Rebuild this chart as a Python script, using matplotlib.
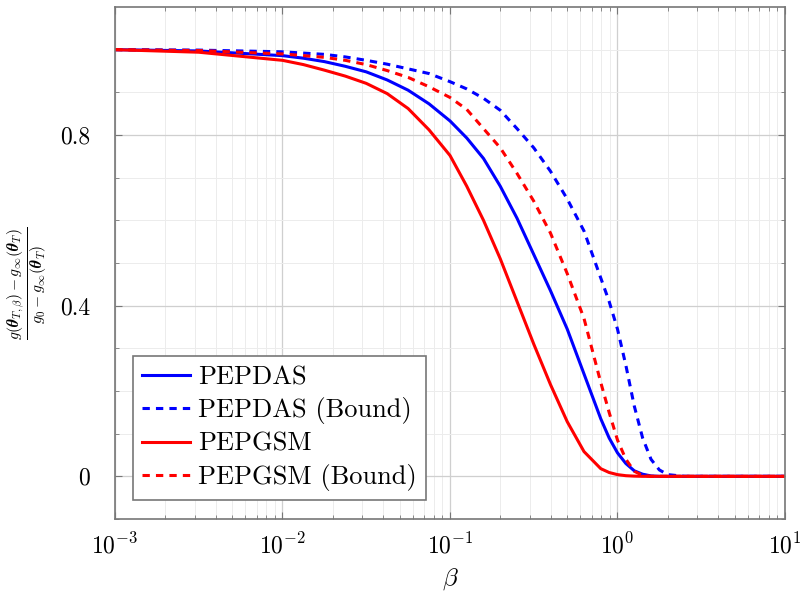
import matplotlib
matplotlib.use("Agg")
import matplotlib.pyplot as plt
from matplotlib.ticker import FixedLocator, FixedFormatter, LogLocator, NullFormatter

# values: log10(beta) and the normalised gap of each method
log_beta = [-3, -2.5, -2, -1.875, -1.75, -1.625, -1.5, -1.375, -1.25, -1.125, -1, -0.9,
            -0.8, -0.7, -0.6, -0.5, -0.4, -0.3, -0.2, -0.1, -0.05, 0, 0.05, 0.1,
            0.15, 0.2, 0.25, 0.3, 0.4, 1]
pepdas = [1.0, 0.997, 0.986, 0.98, 0.972, 0.961, 0.948, 0.929, 0.905, 0.873, 0.833, 0.793,
          0.745, 0.68, 0.605, 0.52, 0.435, 0.345, 0.24, 0.135, 0.09, 0.055, 0.03, 0.013,
          0.005, 0.001, 0.0, 0.0, 0.0, 0.0]
pepdas_bound = [1.0, 0.999, 0.995, 0.992, 0.989, 0.983, 0.975, 0.966, 0.955, 0.944, 0.925, 0.908,
                0.886, 0.858, 0.815, 0.77, 0.715, 0.65, 0.575, 0.465, 0.41, 0.345, 0.26, 0.165,
                0.09, 0.04, 0.015, 0.004, 0.0, 0.0]
pepgsm = [1.0, 0.994, 0.975, 0.965, 0.952, 0.938, 0.921, 0.897, 0.862, 0.812, 0.752, 0.68,
          0.60, 0.51, 0.41, 0.31, 0.215, 0.128, 0.058, 0.018, 0.009, 0.004, 0.0015, 0.0005,
          0.0, 0.0, 0.0, 0.0, 0.0, 0.0]
pepgsm_bound = [1.0, 0.998, 0.99, 0.986, 0.982, 0.975, 0.965, 0.951, 0.935, 0.913, 0.888, 0.86,
                0.815, 0.77, 0.71, 0.645, 0.57, 0.475, 0.37, 0.22, 0.15, 0.085, 0.04, 0.012,
                0.002, 0.0, 0.0, 0.0, 0.0, 0.0]

beta = [10.0 ** e for e in log_beta]

plt.rcParams['font.family'] = 'serif'
plt.rcParams['font.serif'] = ['cmr10', 'DejaVu Serif']
plt.rcParams['mathtext.fontset'] = 'cm'
plt.rcParams['axes.formatter.use_mathtext'] = True

fig = plt.figure(figsize=(8.03, 5.92), dpi=100)
ax = fig.add_axes([115/803, 1-519/592, 670/803, 512/592])

lw = 2.2
dash = (2.4, 2.0)
ax.plot(beta, pepdas, '-', color='blue', lw=lw, label='PEPDAS')
ax.plot(beta, pepdas_bound, '--', color='blue', lw=lw, dashes=dash, label='PEPDAS (Bound)')
ax.plot(beta, pepgsm, '-', color='red', lw=lw, label='PEPGSM')
ax.plot(beta, pepgsm_bound, '--', color='red', lw=lw, dashes=dash, label='PEPGSM (Bound)')

ax.set_xscale('log')
ax.set_xlim(1e-3, 10)
ax.set_ylim(-0.1, 1.1)

ax.xaxis.set_major_locator(LogLocator(base=10, numticks=10))
ax.xaxis.set_minor_locator(LogLocator(base=10, subs=range(2, 10), numticks=20))
ax.xaxis.set_minor_formatter(NullFormatter())
ax.yaxis.set_major_locator(FixedLocator([0, 0.4, 0.8]))
ax.yaxis.set_major_formatter(FixedFormatter(['0', '0.4', '0.8']))
ax.yaxis.set_minor_locator(FixedLocator([-0.1, 0.1, 0.2, 0.3, 0.5, 0.6, 0.7, 0.9, 1.0]))

ax.grid(True, which='major', color='#cfcfcf', lw=0.9)
ax.grid(True, which='minor', color='#ececec', lw=0.7)
ax.set_axisbelow(True)

ax.tick_params(which='both', direction='in', top=True, right=True, color='#777777')
ax.tick_params(which='major', length=5, labelsize=17, pad=10)
ax.tick_params(which='minor', length=3)
ax.tick_params(axis='y', which='major', pad=18)
for s in ax.spines.values():
    s.set_color('#777777')
    s.set_linewidth(1.2)

ax.set_xlabel(r'$\beta$', fontsize=18, labelpad=6)
ax.set_ylabel(r'$\frac{g(\boldsymbol{\theta}_{T,\beta})-g_\infty(\boldsymbol{\theta}_T)}{g_0-g_\infty(\boldsymbol{\theta}_T)}$',
              fontsize=16)
ax.yaxis.set_label_coords(-0.098, 0.46)

leg = ax.legend(loc='lower left', bbox_to_anchor=(0.027, 0.037), borderaxespad=0,
                fontsize=19, handlelength=1.8, handletextpad=0.3, labelspacing=0.3,
                borderpad=0.35, fancybox=False, framealpha=1)
leg.get_frame().set_edgecolor('#777777')
leg.get_frame().set_linewidth(1.2)

fig.savefig('out.png', dpi=100)
